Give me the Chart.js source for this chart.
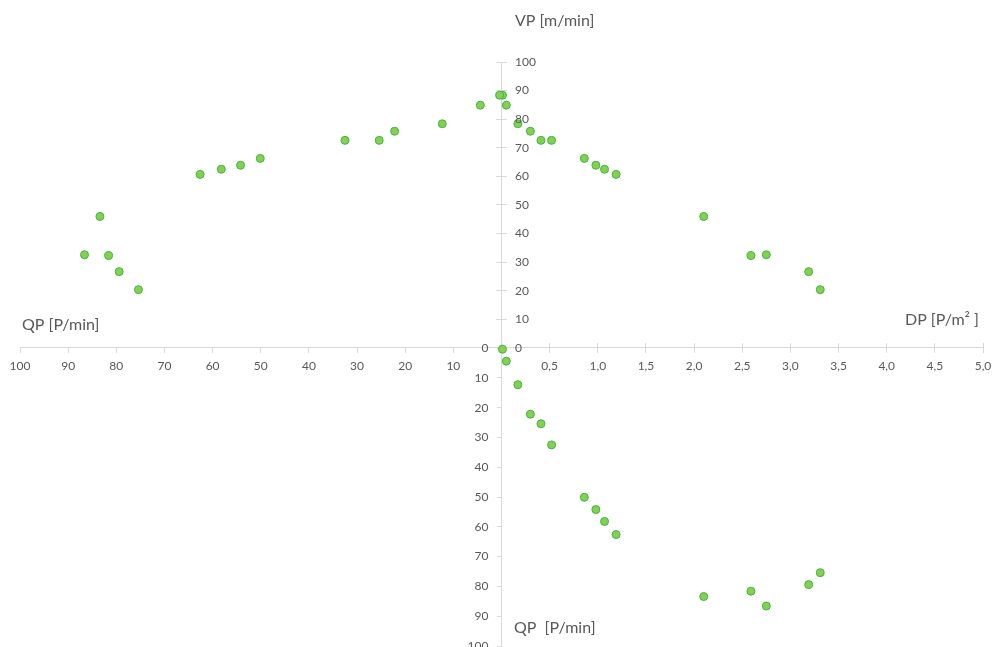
<!DOCTYPE html>
<html>
<head>
<meta charset="utf-8">
<title>VP / QP / DP</title>
<script src="https://cdn.jsdelivr.net/npm/chart.js@4.4.1/dist/chart.umd.min.js"></script>
<style>
  html, body { margin: 0; padding: 0; background: #fff; overflow: hidden; }
  #wrap { width: 993px; height: 651px; position: relative; }
</style>
</head>
<body>
<div id="wrap"><canvas id="grafico"></canvas></div>
<script>
// Observações: densidade DP [P/m2], velocidade VP [m/min], fluxo QP [P/min]
const densidadeDP = [0.01, 0.05, 0.17, 0.30, 0.41, 0.52, 0.86, 0.98, 1.07, 1.19, 2.10, 2.59, 2.75, 3.19, 3.31];
const velocidadeVP = [88.4, 84.9, 78.4, 75.8, 72.6, 72.6, 66.3, 63.9, 62.5, 60.7, 46.0, 32.3, 32.6, 26.7, 20.4];
const fluxoQP = [0.4, 4.4, 12.3, 22.2, 25.4, 32.5, 50.1, 54.2, 58.2, 62.6, 83.4, 81.6, 86.6, 79.4, 75.4];

// Marcas dos eixos
const ticksQPhoriz = [10, 20, 30, 40, 50, 60, 70, 80, 90, 100];
const ticksDP = [0.5, 1.0, 1.5, 2.0, 2.5, 3.0, 3.5, 4.0, 4.5, 5.0];
const ticksVP = [0, 10, 20, 30, 40, 50, 60, 70, 80, 90, 100];
const ticksQPvert = [0, 10, 20, 30, 40, 50, 60, 70, 80, 90, 100];

const corEixo = '#d9d9d9';
const corTexto = '#595959';

Chart.defaults.font.family = 'Lato, "Open Sans", sans-serif';
Chart.defaults.font.size = 12;
Chart.defaults.color = corTexto;

const semPadding = s => { s.paddingLeft = 0; s.paddingRight = 0; s.paddingTop = 0; s.paddingBottom = 0; };
const fixarTicks = valores => s => { s.ticks = valores.map(v => ({ value: v })); };
const virgula = v => Number(v).toFixed(1).replace('.', ',');

// Rótulos do eixo VP (à direita da linha) e títulos dos eixos
const rotulos = {
    id: 'rotulos',
    afterDraw(chart) {
        const ctx = chart.ctx;
        const yV = chart.scales.yV;
        const x0 = chart.scales.xQ.getPixelForValue(0);
        ctx.save();
        ctx.fillStyle = corTexto;
        ctx.font = '12px Lato, "Open Sans", sans-serif';
        ctx.textAlign = 'left';
        ctx.textBaseline = 'middle';
        yV.ticks.forEach(t => ctx.fillText(String(t.value), x0 + 13.5, yV.getPixelForValue(t.value)));

        ctx.font = '16px Lato, "Open Sans", sans-serif';
        ctx.fillText('VP [m/min]', 515, 21);
        ctx.fillText('QP [P/min]', 22, 325);
        ctx.fillText('DP [P/m\u00B2 ]', 905, 320);
        ctx.fillText('QP  [P/min]', 514, 628);
        ctx.restore();
    }
};

const pontos = {
    type: 'scatter',
    showLine: false,
    pointRadius: 4,
    pointHoverRadius: 4,
    backgroundColor: '#86cf4f',
    borderColor: '#3db54a',
    borderWidth: 1
};

const gradeBase = { drawOnChartArea: false, color: corEixo, tickColor: corEixo, tickLength: 5 };

new Chart(document.getElementById('grafico'), {
    type: 'scatter',
    data: {
        datasets: [
            { ...pontos, label: 'VP x QP', xAxisID: 'xQ', yAxisID: 'yV',
              data: fluxoQP.map((q, i) => ({ x: q, y: velocidadeVP[i] })) },
            { ...pontos, label: 'VP x DP', xAxisID: 'xD', yAxisID: 'yV',
              data: densidadeDP.map((d, i) => ({ x: d, y: velocidadeVP[i] })) },
            { ...pontos, label: 'QP x DP', xAxisID: 'xD', yAxisID: 'yQ',
              data: densidadeDP.map((d, i) => ({ x: d, y: fluxoQP[i] })) }
        ]
    },
    options: {
        responsive: true,
        maintainAspectRatio: false,
        animation: false,
        layout: { padding: { left: 20, right: 10, top: 62, bottom: 0 } },
        plugins: { legend: { display: false }, tooltip: { enabled: false } },
        scales: {
            xQ: {
                type: 'linear', axis: 'x', position: { yV: 0 }, reverse: true, min: -100, max: 100,
                afterBuildTicks: fixarTicks(ticksQPhoriz), afterFit: semPadding,
                border: { display: true, color: corEixo },
                grid: { ...gradeBase },
                ticks: { padding: 6, maxRotation: 0, autoSkip: false }
            },
            xD: {
                type: 'linear', axis: 'x', position: { yV: 0 }, min: -5, max: 5,
                afterBuildTicks: fixarTicks(ticksDP), afterFit: semPadding,
                border: { display: false },
                grid: { ...gradeBase },
                ticks: { padding: 6, maxRotation: 0, autoSkip: false, callback: virgula }
            },
            xDc: {
                type: 'linear', axis: 'x', position: { yV: 0 }, min: -5, max: 5,
                afterBuildTicks: fixarTicks(ticksDP), afterFit: semPadding,
                border: { display: false },
                grid: { ...gradeBase, tickLength: -5 },
                ticks: { display: false }
            },
            yV: {
                type: 'linear', axis: 'y', position: 'center', min: -104.2, max: 100,
                afterBuildTicks: fixarTicks(ticksVP), afterFit: semPadding,
                border: { display: true, color: corEixo },
                grid: { ...gradeBase },
                ticks: { display: false }
            },
            yVd: {
                type: 'linear', axis: 'y', position: 'center', min: -104.2, max: 100,
                afterBuildTicks: fixarTicks(ticksVP), afterFit: semPadding,
                border: { display: false },
                grid: { ...gradeBase, tickLength: -5 },
                ticks: { display: false }
            },
            yQ: {
                type: 'linear', axis: 'y', position: 'center', reverse: true, min: -96, max: 100,
                afterBuildTicks: fixarTicks(ticksQPvert), afterFit: semPadding,
                border: { display: false },
                grid: { ...gradeBase },
                ticks: { padding: 8, autoSkip: false }
            }
        }
    },
    plugins: [rotulos]
});
</script>
</body>
</html>
